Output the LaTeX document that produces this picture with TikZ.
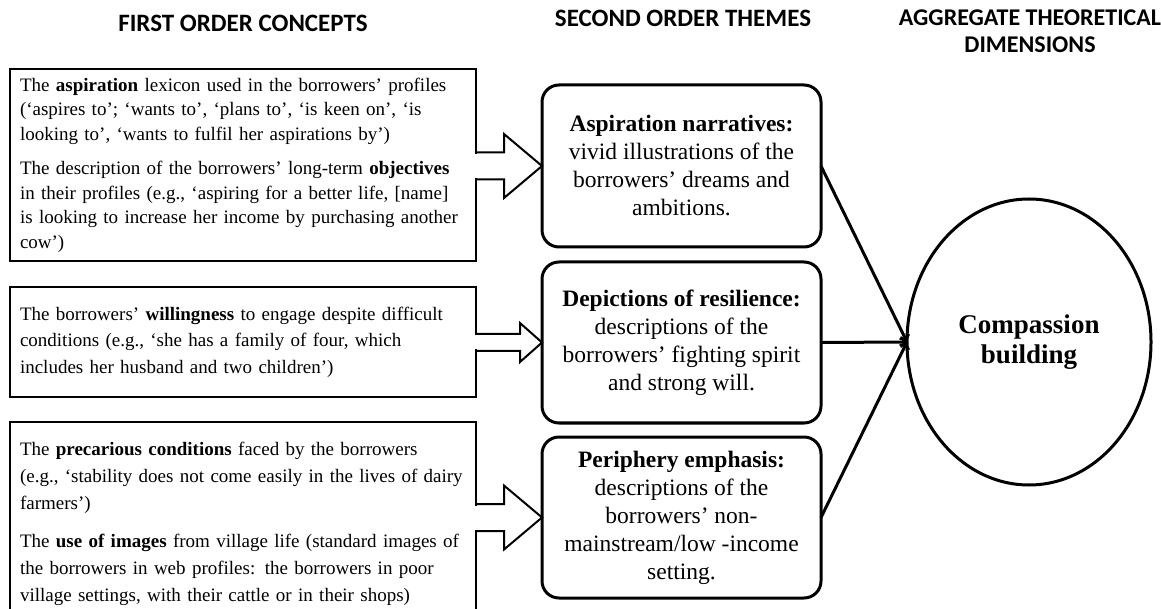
\documentclass[tikz,border=0pt]{standalone}
\usepackage{fontspec}
\setmainfont{Liberation Serif}
\newfontfamily\headfont{Carlito}
\usetikzlibrary{calc,shapes,positioning}

\begin{document}
\begin{tikzpicture}[x=1pt, y=1pt, line width=2.5pt, outer sep=0pt]
  \useasboundingbox (0,0) rectangle (1161,608);

  % column headers
  \node[font=\headfont\bfseries\fontsize{25}{27}\selectfont] (h1) at (243,585) {FIRST ORDER CONCEPTS};
  \node[font=\headfont\bfseries\fontsize{25}{27}\selectfont] (h2) at (683,590) {SECOND ORDER THEMES};
  \node[font=\headfont\bfseries\fontsize{24}{27}\selectfont, align=center] (h3) at (1030,577) {AGGREGATE THEORETICAL\\DIMENSIONS};

  % first order concepts
  \node[rectangle, draw=black, anchor=north west, minimum width=466, minimum height=192, text width=446, align=left, font=\fontsize{19}{24.5}\selectfont] (c1) at (10,539) {The \textbf{aspiration} lexicon used in the borrowers’ profiles\\
    (‘aspires to’; ‘wants to’, ‘plans to’, ‘is keen on’, ‘is\\
    looking to’, ‘wants to fulfil her aspirations by’)\\[10pt]
    The description of the borrowers’ long-term \textbf{objectives}\\
    in their profiles (e.g., ‘aspiring for a better life, [name]\\
    is looking to increase her income by purchasing another\\
    cow’)};
  \node[rectangle, draw=black, below=26 of c1, minimum width=466, minimum height=110, text width=446, align=left, font=\fontsize{19}{26.5}\selectfont] (c2) {The borrowers’ \textbf{willingness} to engage despite difficult\\
    conditions (e.g., ‘she has a family of four, which\\
    includes her husband and two children’)};
  \node[rectangle, draw=black, below=25 of c2, minimum width=466, minimum height=203, text width=446, align=left, font=\fontsize{19}{27}\selectfont] (c3) {The \textbf{precarious conditions} faced by the borrowers\\
    (e.g., ‘stability does not come easily in the lives of dairy\\
    farmers’)\\[11pt]
    The \textbf{use of images} from village life (standard images of\\
    the borrowers in web profiles: the borrowers in poor\\
    village settings, with their cattle or in their shops)};

  % second order themes
  \node[rectangle, rounded corners=17, draw=black, line width=3pt, minimum width=279, minimum height=162, align=center, font=\fontsize{23.5}{28}\selectfont] (t1) at (681.5,442) {\textbf{Aspiration narratives:}\\vivid illustrations of the\\borrowers’ dreams and\\ambitions.};
  \node[rectangle, rounded corners=17, draw=black, line width=3pt, below=15 of t1, minimum width=279, minimum height=161, align=center, font=\fontsize{23.5}{28}\selectfont] (t2) {\textbf{Depictions of resilience:}\\descriptions of the\\borrowers’ fighting spirit\\and strong will.};
  \node[rectangle, rounded corners=17, draw=black, line width=3pt, below=14 of t2, minimum width=279, minimum height=161, align=center, font=\fontsize{23.5}{28}\selectfont] (t3) {\textbf{Periphery emphasis:}\\descriptions of the\\borrowers’ non-\\mainstream/low -income\\setting.};

  % aggregate dimension
  \node[ellipse, draw=black, line width=3pt, minimum width=244, minimum height=286, align=center, font=\bfseries\fontsize{27}{30}\selectfont] (agg) at (1029,266) {Compassion\\building};

  % block arrows into the themes
  \fill[white] ($(c1.east |- t1.west)+(-2,-12)$) rectangle ($(c1.east |- t1.west)+(2,12)$);
  \draw[line width=2pt] ($(c1.east |- t1.west)+(0,13.5)$) -- ++(28,0) -- ++(0,18.5) -- (t1.west) -- ++(-38,-32) -- ++(0,18.5) -- ++(-28,0);

  \fill[white] ($(c2.east |- t2.west)+(-2,-7)$) rectangle ($(c2.east |- t2.west)+(2,7)$);
  \draw[line width=2pt] ($(c2.east |- t2.west)+(0,8.5)$) -- ++(44,0) -- ++(0,11) -- (t2.west) -- ++(-22,-19.5) -- ++(0,11) -- ++(-44,0);

  \fill[white] ($(c3.east |- t3.west)+(-2,-12)$) rectangle ($(c3.east |- t3.west)+(2,12)$);
  \draw[line width=2pt] ($(c3.east |- t3.west)+(0,13.5)$) -- ++(28,0) -- ++(0,18.5) -- (t3.west) -- ++(-38,-32) -- ++(0,18.5) -- ++(-28,0);

  % themes to dimension
  \draw[->, line width=3pt] (t1.east) -- (agg.west);
  \draw[->, line width=3pt] (t2.east) -- (agg.west);
  \draw[->, line width=3pt] (t3.east) -- (agg.west);
\end{tikzpicture}
\end{document}
